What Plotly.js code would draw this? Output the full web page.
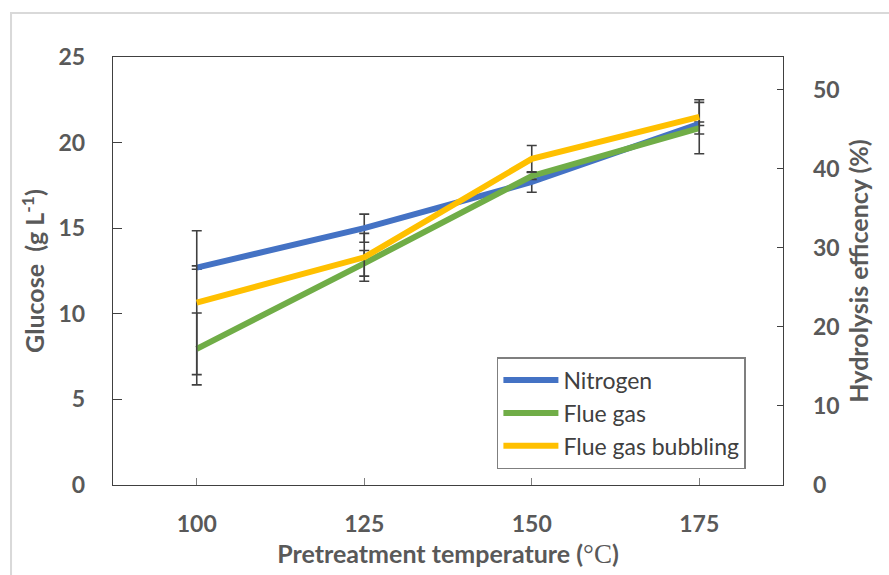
<!DOCTYPE html>
<html>
<head>
<meta charset="utf-8">
<script src="https://cdn.plot.ly/plotly-3.0.1.min.js"></script>
<style>
  html, body { margin: 0; padding: 0; background: #ffffff; }
  #chart { width: 889px; height: 575px; }
</style>
</head>
<body>
<div id="chart"></div>
<script>
// Categories (pretreatment temperature, °C)
const temperatures = ['100', '125', '150', '175'];

// Glucose (g L-1) per series
const nitrogen = [12.7, 15.0, 17.7, 21.1];
const flueGas = [7.95, 12.95, 18.05, 20.85];
const flueGasBubbling = [10.65, 13.3, 19.05, 21.5];

// Error bar half-widths (g L-1)
const nitrogenErr = [0.1, 0.82, 0.6, 0.1];
const flueGasErr = [2.1, 0.75, 0.2, 1.5];
const flueGasBubblingErr = [4.2, 1.4, 0.78, 1.0];

// Axis tick values
const leftTicks = [0, 5, 10, 15, 20, 25];
const rightTicks = [0, 10, 20, 30, 40, 50];
const rightRange = [0, 54.1];

const seriesNames = ['Nitrogen', 'Flue gas', 'Flue gas bubbling'];
const seriesColors = ['#4472C4', '#70AD47', '#FFC000'];
const seriesValues = [nitrogen, flueGas, flueGasBubbling];
const seriesErrors = [nitrogenErr, flueGasErr, flueGasBubblingErr];

const traces = seriesValues.map((vals, i) => ({
  type: 'scatter',
  mode: 'lines',
  name: seriesNames[i],
  x: temperatures,
  y: vals,
  line: { color: seriesColors[i], width: 6 },
  error_y: {
    type: 'data',
    array: seriesErrors[i],
    visible: true,
    color: '#404040',
    thickness: 1.6,
    width: 5
  },
  xaxis: 'x',
  yaxis: 'y'
}));

// Carrier trace so the secondary (right) axis gets drawn; it shows nothing
traces.push({
  type: 'scatter',
  mode: 'lines',
  x: [temperatures[0], temperatures[temperatures.length - 1]],
  y: rightRange,
  line: { width: 0, color: 'rgba(0,0,0,0)' },
  opacity: 0,
  showlegend: false,
  hoverinfo: 'skip',
  xaxis: 'x',
  yaxis: 'y2'
});

const fam = 'Lato, "Open Sans", sans-serif';
const tickFont = { family: fam, size: 23, color: '#595959', weight: 'bold' };
const titleFont = { family: fam, size: 25, color: '#595959', weight: 'bold' };

const layout = {
  width: 889,
  height: 575,
  margin: { l: 113, r: 106, t: 57, b: 90 },
  paper_bgcolor: '#ffffff',
  plot_bgcolor: '#ffffff',
  showlegend: true,
  xaxis: {
    type: 'category',
    range: [-0.5, 3.5],
    tickvals: temperatures,
    ticktext: temperatures,
    showgrid: false,
    zeroline: false,
    showline: true,
    mirror: true,
    linecolor: '#404040',
    linewidth: 1.3,
    ticks: 'inside',
    ticklen: 7,
    tickcolor: '#7f7f7f',
    tickwidth: 1,
    ticklabelstandoff: 18,
    tickfont: tickFont,
    title: {
      text: 'Pretreatment temperature (<span style="font-family:\'Liberation Serif\', serif;font-weight:normal;font-size:27px">°C</span>)',
      font: titleFont,
      standoff: 9
    },
    fixedrange: true
  },
  yaxis: {
    range: [0, 25],
    tickvals: leftTicks,
    showgrid: false,
    zeroline: false,
    showline: true,
    linecolor: '#404040',
    linewidth: 1.3,
    ticks: 'inside',
    ticklen: 9,
    tickcolor: '#404040',
    tickwidth: 1,
    ticklabelstandoff: 22,
    tickfont: tickFont,
    title: {
      text: 'Glucose  (g L<sup>-1</sup>)',
      font: titleFont,
      standoff: 6
    },
    fixedrange: true
  },
  yaxis2: {
    overlaying: 'y',
    side: 'right',
    range: rightRange,
    tickvals: rightTicks,
    showgrid: false,
    zeroline: false,
    showline: true,
    linecolor: '#404040',
    linewidth: 1.3,
    ticks: 'inside',
    ticklen: 6,
    tickcolor: '#404040',
    tickwidth: 1,
    ticklabelstandoff: 24,
    tickfont: tickFont,
    title: {
      text: 'Hydrolysis efficency (%)',
      font: titleFont,
      standoff: 12
    },
    fixedrange: true
  },
  legend: {
    x: 0.573,
    y: 0.299,
    xanchor: 'left',
    yanchor: 'top',
    bgcolor: '#ffffff',
    bordercolor: '#7f7f7f',
    borderwidth: 1.5,
    font: { family: fam, size: 23, color: '#404040' },
    itemwidth: 55,
    tracegroupgap: 0
  },
  shapes: [{
    type: 'rect',
    xref: 'paper',
    yref: 'paper',
    x0: -0.1522,
    x1: 1.18,
    y0: 1.1028,
    y1: -0.25,
    line: { color: '#d9d9d9', width: 2 },
    fillcolor: 'rgba(0,0,0,0)',
    layer: 'below'
  }]
};

Plotly.newPlot('chart', traces, layout, { displayModeBar: false, staticPlot: true });
</script>
</body>
</html>
